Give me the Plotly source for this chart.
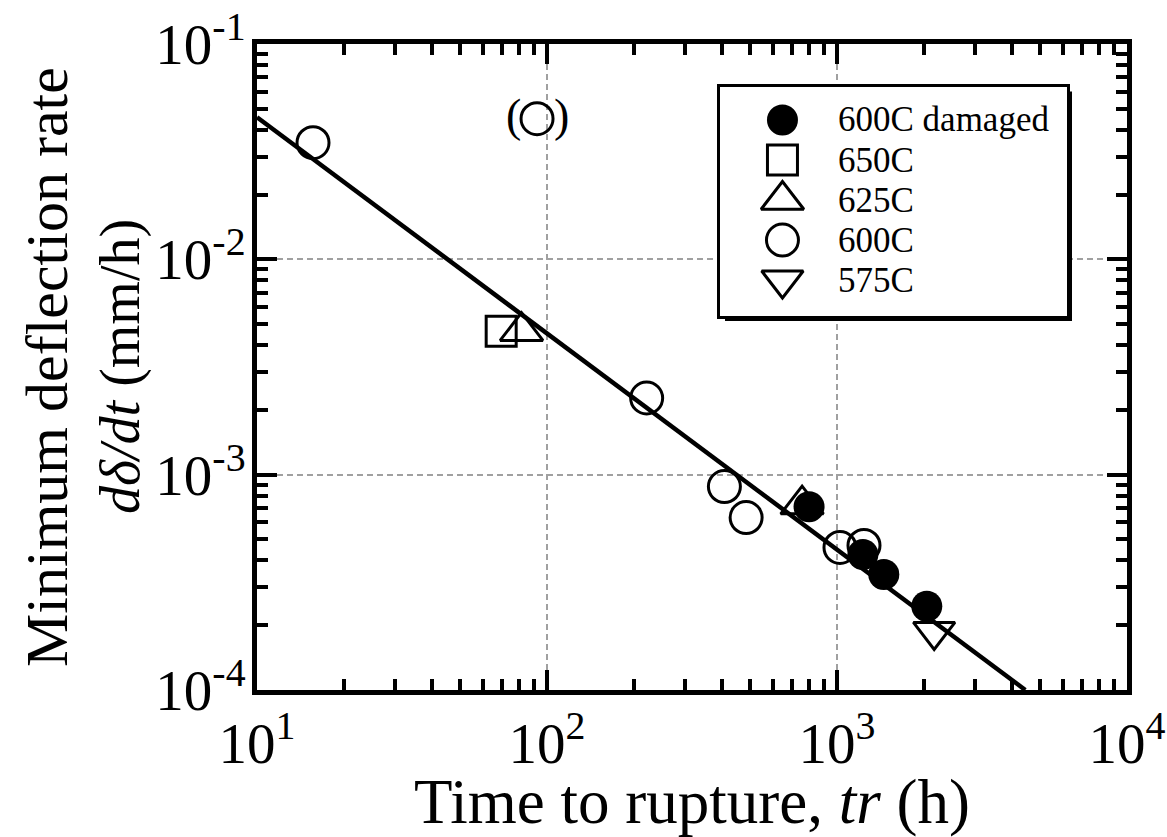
import math
import plotly.graph_objects as go

# ---------------- data ----------------
series_names = ["600C damaged", "650C", "625C", "600C", "575C"]

t_600_damaged = [801, 1228, 1450, 2040]
rate_600_damaged = [7.1e-4, 4.26e-4, 3.44e-4, 2.45e-4]

t_650 = [69.5]
rate_650 = [4.64e-3]

t_625 = [81.7, 758]
rate_625 = [4.64e-3, 7.26e-4]

t_600 = [15.6, 220.6, 409, 486, 1024, 1239]
rate_600 = [0.0348, 2.27e-3, 8.8e-4, 6.32e-4, 4.59e-4, 4.69e-4]

t_600_excluded = [92.4]          # the point shown in parentheses
rate_600_excluded = [0.045]

t_575 = [2163]
rate_575 = [1.87e-4]

fit_t = [10, 4460]
fit_rate = [0.0457, 1.0e-4]

x_tick_exp = [1, 2, 3, 4]
y_tick_exp = [-4, -3, -2, -1]

# ---------------- styling ----------------
FONT = "'Liberation Serif', 'Times New Roman', serif"
W, H = 1167, 837
L, R, T, B = 257, 40, 44, 147
PW, PH = W - L - R, H - T - B

symbols = {
    "600C damaged": dict(symbol="circle", size=31, color="black", line=dict(width=0, color="black")),
    "650C": dict(symbol="square-open", size=30, color="black", line=dict(width=3, color="black")),
    "625C": dict(symbol="triangle-up-open", size=37, color="black", line=dict(width=3, color="black")),
    "600C": dict(symbol="circle-open", size=32, color="black", line=dict(width=3, color="black")),
    "575C": dict(symbol="triangle-down-open", size=36, color="black", line=dict(width=3, color="black")),
}

fig = go.Figure()

# fit line
fig.add_trace(go.Scatter(x=fit_t, y=fit_rate, mode="lines",
                         line=dict(color="black", width=4.5), showlegend=False, hoverinfo="skip"))

# data series
series_data = {
    "650C": (t_650, rate_650),
    "625C": (t_625, rate_625),
    "600C": (t_600 + t_600_excluded, rate_600 + rate_600_excluded),
    "575C": (t_575, rate_575),
    "600C damaged": (t_600_damaged, rate_600_damaged),
}
for name, (xs, ys) in series_data.items():
    fig.add_trace(go.Scatter(x=xs, y=ys, mode="markers", name=name,
                             marker=symbols[name], showlegend=False))

# parentheses around the excluded point (annotations on log axes use log10 positions)
for txt, shift in (("(", -24), (")", 24)):
    fig.add_annotation(x=math.log10(t_600_excluded[0]), y=math.log10(rate_600_excluded[0]),
                       xref="x", yref="y",
                       text=txt, showarrow=False, xanchor="center", yanchor="middle",
                       xshift=shift, yshift=3, font=dict(family=FONT, size=46, color="black"))

# ---------------- custom legend on an inset subplot ----------------
lx0, lx1 = (720 - L) / PW, (1067 - L) / PW
ly0, ly1 = (H - B - 316) / PH, (H - B - 86.5) / PH
for i, name in enumerate(series_names):
    fig.add_trace(go.Scatter(x=[0.18], y=[i], mode="markers", marker=symbols[name],
                             xaxis="x2", yaxis="y2", showlegend=False, hoverinfo="skip"))
    fig.add_annotation(x=0.335, y=i, xref="x2", yref="y2", text=name, showarrow=False,
                       xanchor="left", yanchor="middle",
                       font=dict(family=FONT, size=35, color="black"))

# legend shadow (L-shaped strip, bottom + right)
dx, dy = 5 / PW, 5 / PH
fig.add_shape(type="path", xref="paper", yref="paper", layer="above",
              path=(f"M {lx0+dx},{ly0} L {lx0+dx},{ly0-dy} L {lx1+dx},{ly0-dy} "
                    f"L {lx1+dx},{ly1-dy} L {lx1},{ly1-dy} L {lx1},{ly0} Z"),
              fillcolor="black", line=dict(width=0))

minor_x = [k * 10 ** e for e in range(1, 4) for k in range(2, 10)]
minor_y = [k * 10.0 ** e for e in range(-4, -1) for k in range(2, 10)]

axis_common = dict(
    showline=True, linecolor="black", linewidth=5, mirror="ticks",
    ticks="inside", ticklen=20, tickwidth=4, tickcolor="black",
    showgrid=True, gridcolor="#a0a0a0", gridwidth=2, griddash="6px,4px",
    zeroline=False, tickfont=dict(family=FONT, size=57, color="black"),
    tickmode="array",
)

fig.update_layout(
    width=W, height=H,
    margin=dict(l=L, r=R, t=T, b=B, autoexpand=False),
    paper_bgcolor="white", plot_bgcolor="white",
    showlegend=False,
    xaxis=dict(type="log", range=[1, 4], domain=[0, 1],
               tickvals=[10 ** e for e in x_tick_exp],
               ticktext=[f"10<sup>{e}</sup>" for e in x_tick_exp],
               minor=dict(tickmode="array", tickvals=minor_x, ticks="inside", ticklen=11,
                          tickwidth=4, tickcolor="black", showgrid=False),
               title=dict(text="Time to rupture, <i>tr</i> (h)", standoff=10,
                          font=dict(family=FONT, size=63, color="black")),
               **axis_common),
    yaxis=dict(type="log", range=[-4, -1], domain=[0, 1],
               tickvals=[10.0 ** e for e in y_tick_exp],
               ticktext=[f"10<sup>{e}</sup>" for e in y_tick_exp],
               ticklabelstandoff=-5,
               minor=dict(tickmode="array", tickvals=minor_y, ticks="inside", ticklen=11,
                          tickwidth=4, tickcolor="black", showgrid=False),
               **axis_common),
    xaxis2=dict(domain=[lx0, lx1], anchor="y2", range=[0, 1], showline=True, mirror=True,
                linecolor="black", linewidth=3, showgrid=False, zeroline=False,
                showticklabels=False, ticks="", fixedrange=True),
    yaxis2=dict(domain=[ly0, ly1], anchor="x2", range=[4.9, -0.8375], showline=True, mirror=True,
                linecolor="black", linewidth=3, showgrid=False, zeroline=False,
                showticklabels=False, ticks="", fixedrange=True),
)

# y-axis title (two lines)
fig.add_annotation(x=(47 - L) / PW, y=0.5, xref="paper", yref="paper", textangle=-90,
                   text="Minimum deflection rate", showarrow=False,
                   xanchor="center", yanchor="middle",
                   font=dict(family=FONT, size=60, color="black"))
fig.add_annotation(x=(120 - L) / PW, y=0.5, xref="paper", yref="paper", textangle=-90,
                   text="<i>dδ/dt</i> (mm/h)", showarrow=False,
                   xanchor="center", yanchor="middle",
                   font=dict(family=FONT, size=56, color="black"))

fig.write_html("out.html")
